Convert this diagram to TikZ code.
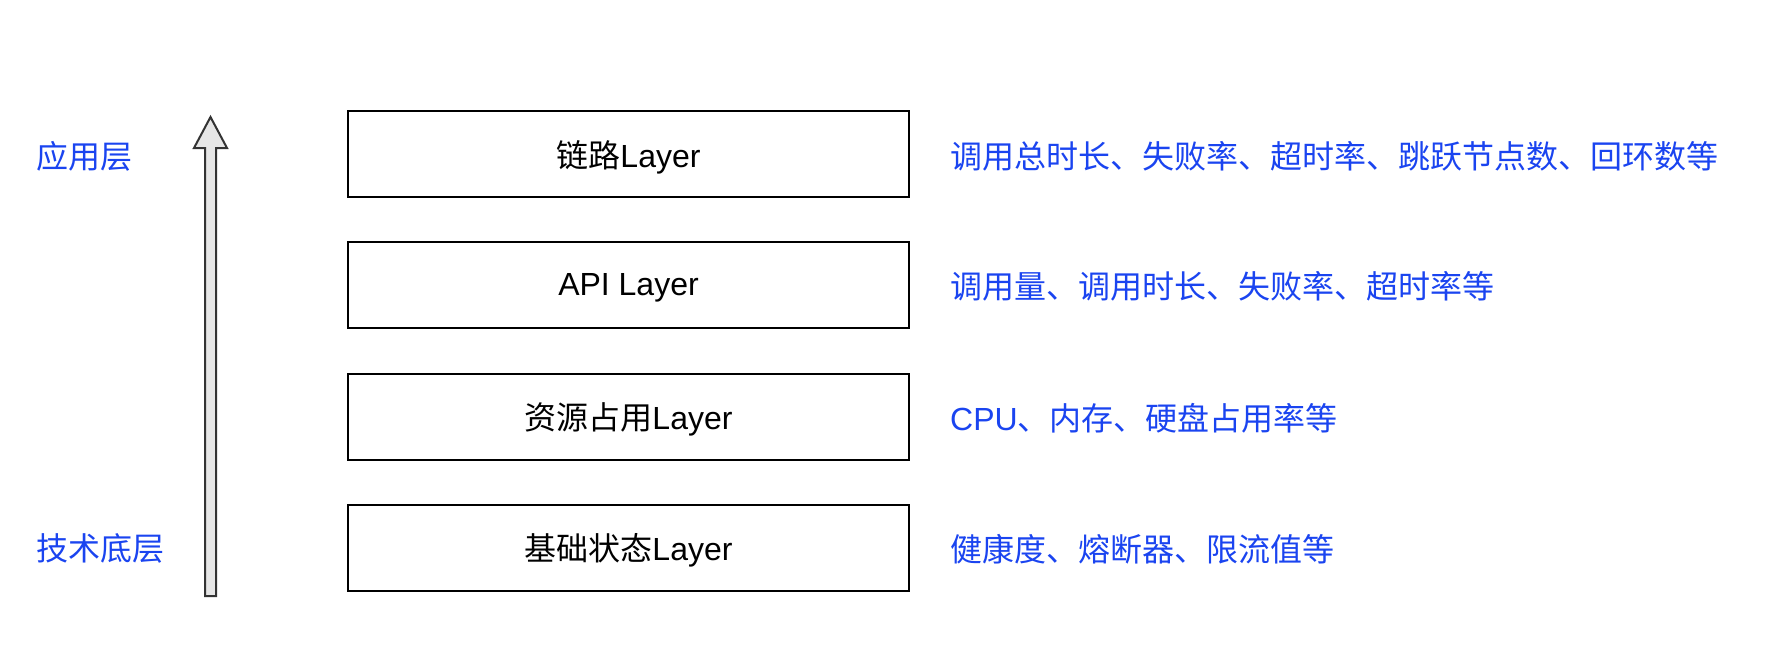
\documentclass[tikz,border=0pt]{standalone}
\usepackage{fontspec}
\setmainfont{Liberation Sans}
\newfontfamily\cjk{Noto Sans CJK SC}
\definecolor{lblblue}{HTML}{1A44F0}
\definecolor{arrowfill}{HTML}{E6E6E6}
\definecolor{arrowline}{HTML}{333333}
\begin{document}
\begin{tikzpicture}[x=1pt,y=-1pt,
  layerbox/.style={draw=black,line width=2pt,minimum width=561pt,minimum height=86pt,inner sep=0pt,
    font=\fontsize{32}{36}\selectfont},
  boxtext/.style={inner sep=0pt,font=\fontsize{32}{36}\selectfont,yshift=-3pt},
  desc/.style={anchor=west,text=lblblue,inner sep=0pt,font=\fontsize{32}{36}\selectfont,yshift=-2pt},
  side/.style={anchor=west,text=lblblue,inner sep=0pt,font=\fontsize{32}{36}\selectfont\cjk}]
\useasboundingbox (0,0) rectangle (1782,662);
\node[layerbox] (l1) at (628.5,154) {};
\node[layerbox] (l2) at (628.5,284.5) {};
\node[layerbox] (l3) at (628.5,416.5) {};
\node[layerbox] (l4) at (628.5,547.5) {};
\node[boxtext] (t1) at (l1.center) {{\cjk 链路}Layer};
\node[boxtext] (t2) at (l2.center) {API Layer};
\node[boxtext] (t3) at (l3.center) {{\cjk 资源占用}Layer};
\node[boxtext] (t4) at (l4.center) {{\cjk 基础状态}Layer};
\node[desc] (d1) at (950,154) {\cjk 调用总时长、失败率、超时率、跳跃节点数、回环数等};
\node[desc] (d2) at (950,284.5) {\cjk 调用量、调用时长、失败率、超时率等};
\node[desc] (d3) at (950,416.5) {CPU{\cjk 、内存、硬盘占用率等}};
\node[desc] (d4) at (950,547.5) {\cjk 健康度、熔断器、限流值等};
\node[side] (top) at (36,156) {应用层};
\node[side] (bot) at (36,548) {技术底层};
\draw[fill=arrowfill,draw=arrowline,line width=2pt,line join=miter]
  (205,596) -- (205,148) -- (194,148) -- (210.5,117) -- (227,148) -- (216,148) -- (216,596) -- cycle;
\end{tikzpicture}
\end{document}
